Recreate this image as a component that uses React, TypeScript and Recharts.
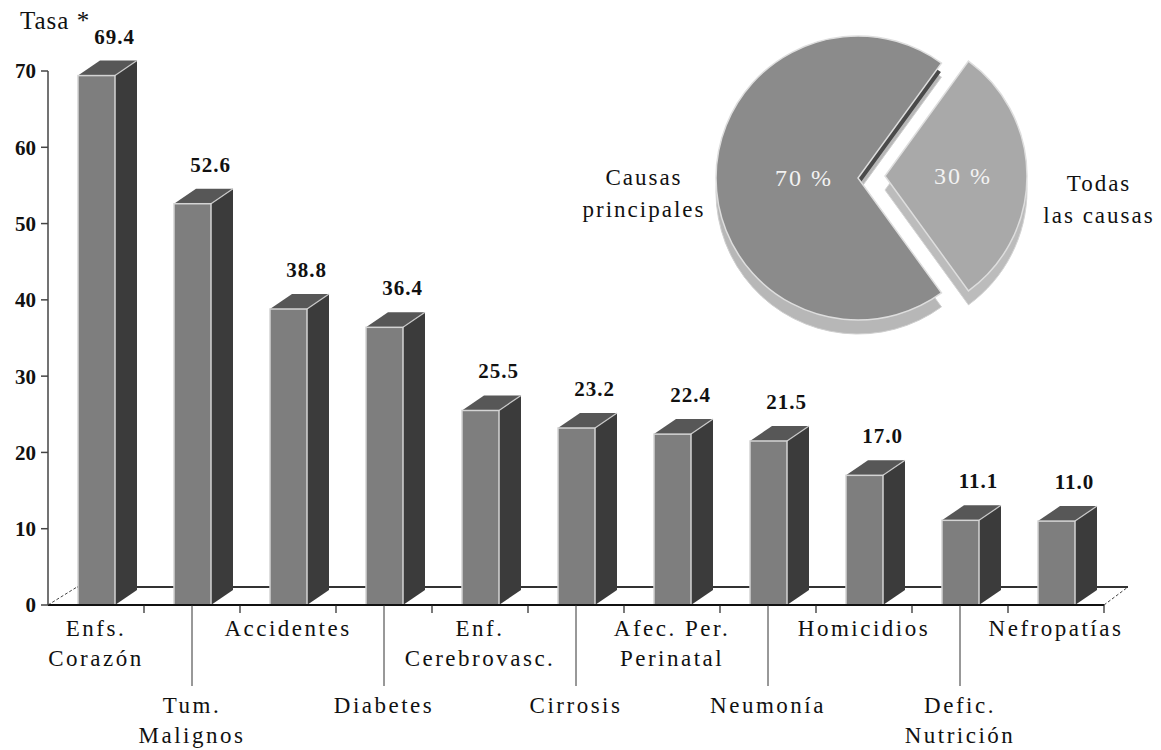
import React from 'react';
import { BarChart, Bar, XAxis, YAxis, LabelList, PieChart, Pie, Cell } from 'recharts';

// --- data ---
const categories = [
  'Enfs.\nCorazón',
  'Tum.\nMalignos',
  'Accidentes',
  'Diabetes',
  'Enf.\nCerebrovasc.',
  'Cirrosis',
  'Afec. Per.\nPerinatal',
  'Neumonía',
  'Homicidios',
  'Defic.\nNutrición',
  'Nefropatías',
];
const rates = [69.4, 52.6, 38.8, 36.4, 25.5, 23.2, 22.4, 21.5, 17.0, 11.1, 11.0];
const yTicks = [0, 10, 20, 30, 40, 50, 60, 70];

const shareNames = ['Causas\nprincipales', 'Todas\nlas causas'];
const shareValues = [70, 30];

const barData = categories.map((name, i) => ({ name, rate: rates[i] }));
const shareData = shareNames.map((name, i) => ({ name, value: shareValues[i] }));

// --- layout ---
const W = 1161;
const H = 750;
const PLOT_LEFT = 48;
const PLOT_RIGHT = 1104;
const PLOT_TOP = 71;
const AXIS_Y = 605;
const DX = 22; // bar depth
const DY = 15;
const SERIF = '"Liberation Serif", "Times New Roman", "DejaVu Serif", serif';
const HALF_BAND = (PLOT_RIGHT - PLOT_LEFT) / categories.length / 2;

const Bar3D = (props: any) => {
  const { x, y, width, height } = props;
  if (!height || height <= 0) return null;
  const r = x + width;
  const b = y + height;
  return (
    <g>
      <polygon points={`${r},${y} ${r + DX},${y - DY} ${r + DX},${b - DY} ${r},${b}`} fill="#3b3b3b" />
      <polygon points={`${x},${y} ${x + DX},${y - DY} ${r + DX},${y - DY} ${r},${y}`} fill="#575757" />
      <line x1={r} y1={y} x2={r + DX} y2={y - DY} stroke="#c8c8c8" strokeWidth={1.2} />
      <rect x={x} y={y} width={width} height={height} fill="#7e7e7e" stroke="#d4d4d4" strokeWidth={1.5} />
    </g>
  );
};

const ValueLabel = (props: any) => {
  const { x, y, width, value } = props;
  return (
    <text
      x={x + width / 2 + 18}
      y={y - 32}
      textAnchor="middle"
      fontFamily={SERIF}
      fontSize={21}
      fontWeight="bold"
      letterSpacing={1}
      fill="#111"
    >
      {Number(value).toFixed(1)}
    </text>
  );
};

const CategoryTick = (props: any) => {
  const { x, y, payload } = props;
  const lines = String(payload.value).split('\n');
  const low = payload.index % 2 === 1;
  const base = low ? y + 108 : y + 31;
  return (
    <g>
      <line x1={x + HALF_BAND} y1={y} x2={x + HALF_BAND} y2={y + 8} stroke="#222" strokeWidth={1.2} />
      {low && <line x1={x} y1={y} x2={x} y2={y + 81} stroke="#333" strokeWidth={1} />}
      <text x={x} y={base} textAnchor="middle" fontFamily={SERIF} fontSize={23} letterSpacing={2.5} fill="#111">
        {lines.map((l, i) => (
          <tspan key={i} x={x} dy={i === 0 ? 0 : 30}>
            {l}
          </tspan>
        ))}
      </text>
    </g>
  );
};

// pie placement (inside its own chart box)
const PIE_LEFT = 560;
const PIE_TOP = 20;
const R = 142;
const BIG_CX = 298;
const BIG_CY = 158;
const SMALL_CX = 325;
const SMALL_CY = 156;
const RIM = 14;
const RADIAN = Math.PI / 180;
const innerFactor = [0.38, 0.55];
const outerFirstLine = [-1, 7];

const shareLabel = (visible: number) => (props: any) => {
  const { cx, cy, midAngle, outerRadius, index, payload, value } = props;
  if (index !== visible) return null;
  const cos = Math.cos(-midAngle * RADIAN);
  const sin = Math.sin(-midAngle * RADIAN);
  const ix = cx + outerRadius * innerFactor[index] * cos;
  const iy = cy + outerRadius * innerFactor[index] * sin;
  const ox = cx + (outerRadius + 72) * cos;
  const oy = cy + outerFirstLine[index];
  const name = String((payload && payload.name) || shareNames[index]).split('\n');
  return (
    <g>
      <text x={ix} y={iy} textAnchor="middle" dominantBaseline="central" fontFamily={SERIF} fontSize={24} letterSpacing={2} fill="#f2f2f2">
        {`${value} %`}
      </text>
      <text x={ox} y={oy} textAnchor="middle" dominantBaseline="central" fontFamily={SERIF} fontSize={23} letterSpacing={2} fill="#111">
        {name.map((l, i) => (
          <tspan key={i} x={ox} dy={i === 0 ? 0 : 32}>
            {l}
          </tspan>
        ))}
      </text>
    </g>
  );
};

const pieCommon = {
  data: shareData,
  dataKey: 'value',
  startAngle: 54,
  endAngle: 414,
  outerRadius: R,
  labelLine: false,
  isAnimationActive: false,
};

export default function App() {
  return (
    <div style={{ position: 'absolute', left: 0, top: 0, width: W, height: H, background: '#fff' }}>
      {/* floor of the 3D plot and the axis title */}
      <svg width={W} height={H} style={{ position: 'absolute', left: 0, top: 0 }}>
        <line x1={PLOT_LEFT + 29} y1={AXIS_Y - 18} x2={PLOT_RIGHT + 24} y2={AXIS_Y - 18} stroke="#333" strokeWidth={2} />
        <line x1={PLOT_LEFT} y1={AXIS_Y} x2={PLOT_LEFT + 29} y2={AXIS_Y - 18} stroke="#444" strokeDasharray="3 2" />
        <line x1={PLOT_RIGHT} y1={AXIS_Y} x2={PLOT_RIGHT + 24} y2={AXIS_Y - 18} stroke="#444" strokeDasharray="3 2" />
        <text x={20} y={29} fontFamily={SERIF} fontSize={25} letterSpacing={1} fill="#111">
          Tasa *
        </text>
      </svg>

      <div style={{ position: 'absolute', left: 0, top: 0 }}>
        <BarChart
          width={W}
          height={H}
          data={barData}
          margin={{ top: PLOT_TOP, right: W - PLOT_RIGHT, bottom: 5, left: 0 }}
          barSize={37}
        >
          <XAxis
            dataKey="name"
            height={H - AXIS_Y - 5}
            interval={0}
            tickLine={false}
            tickSize={0}
            tickMargin={0}
            axisLine={{ stroke: '#111', strokeWidth: 2 }}
            tick={<CategoryTick />}
          />
          <YAxis
            width={PLOT_LEFT}
            domain={[0, 70]}
            ticks={yTicks}
            tickSize={7}
            tickMargin={5}
            axisLine={{ stroke: '#444', strokeWidth: 1.5 }}
            tickLine={{ stroke: '#444', strokeWidth: 1.5 }}
            tick={{ fontFamily: SERIF, fontSize: 21, fontWeight: 'bold', fill: '#111' }}
          />
          <Bar dataKey="rate" shape={<Bar3D />} isAnimationActive={false}>
            <LabelList dataKey="rate" content={<ValueLabel />} />
          </Bar>
        </BarChart>
      </div>

      <div style={{ position: 'absolute', left: PIE_LEFT, top: PIE_TOP }}>
        <PieChart width={600} height={330} margin={{ top: 0, right: 0, bottom: 0, left: 0 }}>
          {/* side rims */}
          <Pie {...pieCommon} cx={BIG_CX} cy={BIG_CY + RIM}>
            <Cell fill="#b7b7b7" stroke="#cfcfcf" />
            <Cell fill="none" stroke="none" />
          </Pie>
          <Pie {...pieCommon} cx={SMALL_CX} cy={SMALL_CY + RIM}>
            <Cell fill="none" stroke="none" />
            <Cell fill="#bcbcbc" stroke="#d4d4d4" />
          </Pie>
          {/* dark cut face of the big slice */}
          <Pie {...pieCommon} cx={BIG_CX + 3} cy={BIG_CY + 4} outerRadius={R - 6}>
            <Cell fill="#4a4a4a" stroke="none" />
            <Cell fill="none" stroke="none" />
          </Pie>
          {/* tops */}
          <Pie {...pieCommon} cx={BIG_CX} cy={BIG_CY} label={shareLabel(0)}>
            <Cell fill="#8b8b8b" stroke="#dedede" strokeWidth={1.5} />
            <Cell fill="none" stroke="none" />
          </Pie>
          <Pie {...pieCommon} cx={SMALL_CX} cy={SMALL_CY} label={shareLabel(1)}>
            <Cell fill="none" stroke="none" />
            <Cell fill="#a9a9a9" stroke="#dedede" strokeWidth={1.5} />
          </Pie>
        </PieChart>
      </div>
    </div>
  );
}
